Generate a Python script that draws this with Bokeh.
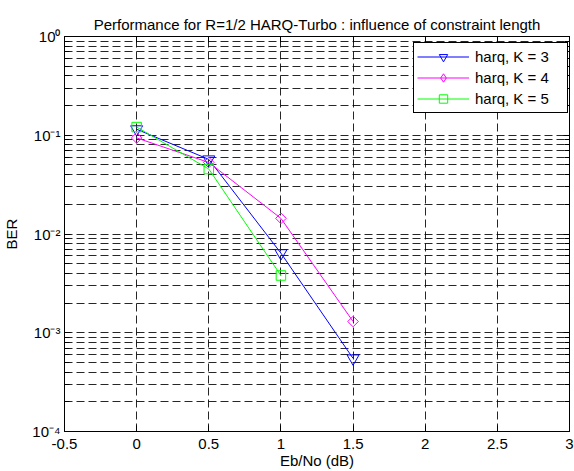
import numpy as np
from bokeh.plotting import figure
from bokeh.models import FixedTicker, LinearAxis, LogAxis, Legend, LegendItem
from bokeh.embed import file_html
from bokeh.resources import INLINE

# ---- data ----
ebno_k3 = [0.0, 0.5, 1.0, 1.5]
ber_k3 = [0.115, 0.057, 0.0064, 0.00055]
ebno_k4 = [0.0, 0.5, 1.0, 1.5]
ber_k4 = [0.094, 0.053, 0.0144, 0.0013]
ebno_k5 = [0.0, 0.5, 1.0]
ber_k5 = [0.121, 0.0455, 0.0038]

series_labels = ["harq, K = 3", "harq, K = 4", "harq, K = 5"]

x_ticks = [-0.5, 0.0, 0.5, 1.0, 1.5, 2.0, 2.5, 3.0]
x_tick_labels = ["-0.5", "0", "0.5", "1", "1.5", "2", "2.5", "3"]
y_ticks = [1e-4, 1e-3, 1e-2, 1e-1, 1.0]
y_tick_labels = ["10\u207b\u2074", "10\u207b\u00b3", "10\u207b\u00b2", "10\u207b\u00b9", "10\u2070"]
y_minor = [m * 10.0 ** e for e in range(-4, 0) for m in range(2, 10)]

title_text = "Performance for R=1/2 HARQ-Turbo : influence of constraint length"
x_label = "Eb/No (dB)"
y_label = "BER"

FONT = "Liberation Sans"
FS = "15px"

p = figure(width=574, height=471, x_range=(-0.5, 3.0), y_range=(1e-4, 1.0),
           y_axis_type="log", output_backend="svg", toolbar_location=None,
           min_border_left=64, min_border_right=5, min_border_top=36, min_border_bottom=39,
           background_fill_color="white", border_fill_color="white")

p.outline_line_color = "black"
p.outline_line_width = 1
p.outline_line_alpha = 1.0

xt = FixedTicker(ticks=x_ticks, minor_ticks=[])
yt = FixedTicker(ticks=y_ticks, minor_ticks=y_minor)

# bottom axis
xa = p.xaxis[0]
xa.ticker = xt
xa.major_label_overrides = {t: l for t, l in zip(x_ticks, x_tick_labels)}
xa.axis_label = x_label
# left axis
ya = p.yaxis[0]
ya.ticker = yt
ya.major_label_overrides = {t: l for t, l in zip(y_ticks, y_tick_labels)}
ya.axis_label = y_label

for ax in (xa, ya):
    ax.axis_line_color = "black"
    ax.major_tick_line_color = "black"
    ax.minor_tick_line_color = "black"
    ax.major_tick_in = 6
    ax.major_tick_out = 0
    ax.minor_tick_in = 5
    ax.minor_tick_out = 0
    ax.major_label_text_font = FONT
    ax.major_label_text_font_size = FS
    ax.major_label_text_color = "black"
    ax.axis_label_text_font = FONT
    ax.axis_label_text_font_size = FS
    ax.axis_label_text_font_style = "normal"
    ax.axis_label_text_color = "black"

xa.major_label_standoff = 7
xa.axis_label_standoff = 0
ya.major_label_standoff = 4
ya.axis_label_standoff = 9

# top and right axes: ticks only, empty labels
top = LinearAxis(ticker=xt, major_label_overrides={t: "" for t in x_ticks},
                 major_label_standoff=0,
                 major_tick_in=6, major_tick_out=0, minor_tick_in=0, minor_tick_out=0,
                 axis_line_color="black", major_tick_line_color="black")
right = LogAxis(ticker=yt, major_label_overrides={t: "" for t in y_ticks},
                major_label_standoff=0,
                major_tick_in=6, major_tick_out=0, minor_tick_in=5, minor_tick_out=0,
                axis_line_color="black", major_tick_line_color="black",
                minor_tick_line_color="black")
p.add_layout(top, "above")
p.add_layout(right, "right")

# grids
p.xgrid.ticker = xt
p.ygrid.ticker = yt
for g in (p.xgrid[0], p.ygrid[0]):
    g.grid_line_color = "black"
    g.grid_line_alpha = 0.85
    g.grid_line_dash = "8 4"
    g.grid_line_width = 1
p.ygrid.minor_grid_line_color = "black"
p.ygrid.minor_grid_line_alpha = 0.85
p.ygrid.minor_grid_line_dash = "8 4"

# title
p.title.text = title_text
p.title.align = "center"
p.title.text_font = FONT
p.title.text_font_size = "15px"
p.title.text_font_style = "normal"
p.title.text_color = "black"
p.title.standoff = 7

# series
l3 = p.line(ebno_k3, ber_k3, line_color="#0000ff", line_width=1)
m3 = p.scatter(ebno_k3, ber_k3, marker="inverted_triangle", size=12,
               line_color="#0000ff", fill_color=None, line_width=1)
l4 = p.line(ebno_k4, ber_k4, line_color="#ff00ff", line_width=1)
m4 = p.scatter(ebno_k4, ber_k4, marker="square", angle=np.pi / 4, size=7.5,
               line_color="#ff00ff", fill_color=None, line_width=1)
m4_leg = p.scatter(ebno_k4, ber_k4, marker="diamond", size=10,
                   line_color="#ff00ff", fill_color=None, line_width=1, visible=False)
l5 = p.line(ebno_k5, ber_k5, line_color="#00ff00", line_width=1)
m5 = p.scatter(ebno_k5, ber_k5, marker="square", size=9.5,
               line_color="#00ff00", fill_color=None, line_width=1)

legend = Legend(items=[
    LegendItem(label=series_labels[0], renderers=[l3, m3]),
    LegendItem(label=series_labels[1], renderers=[l4, m4_leg]),
    LegendItem(label=series_labels[2], renderers=[l5, m5]),
], location=(349, 318))
legend.padding = 3
legend.spacing = 0
legend.glyph_width = 52
legend.glyph_height = 21
legend.label_height = 21
legend.label_width = 89
legend.label_standoff = 6
legend.label_text_font = FONT
legend.label_text_font_size = FS
legend.label_text_color = "black"
legend.border_line_color = "black"
legend.border_line_width = 1
legend.border_line_alpha = 1.0
legend.background_fill_color = "white"
legend.background_fill_alpha = 1.0
legend.margin = 0
p.add_layout(legend)

open("out.html", "w").write(file_html(p, INLINE))
